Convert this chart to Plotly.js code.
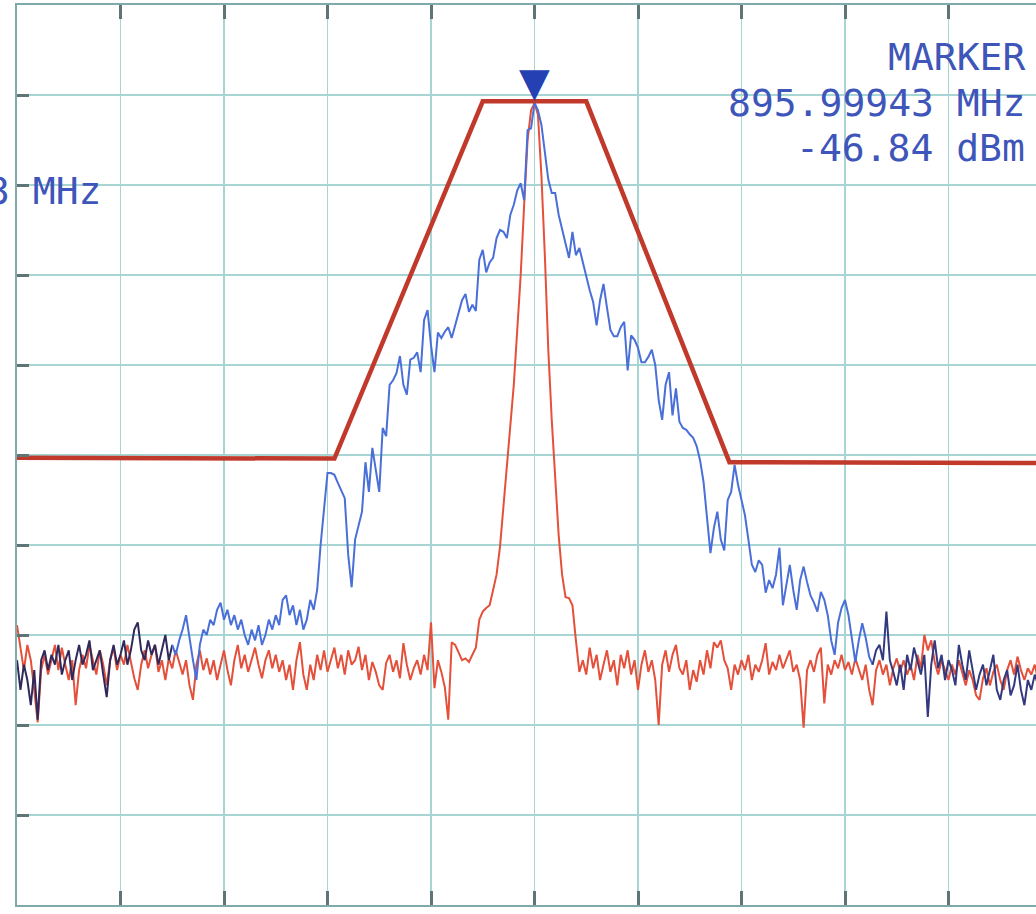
<!DOCTYPE html>
<html>
<head>
<meta charset="utf-8">
<script src="https://cdn.plot.ly/plotly-3.0.1.min.js"></script>
<style>
  html, body { margin: 0; padding: 0; background: #ffffff; }
  #chart { width: 1036px; height: 914px; }
</style>
</head>
<body>
<div id="chart"></div>
<script>
// ---- Sweep definition (spectrum analyzer sweep points) ----
const sweepStartMHz = 894.5;
const sweepStopMHz = 897.5;
const sweepPoints = 301;

// ---- Marker readout ----
const markerFreqMHz = 895.99943;
const markerLevelDbm = -46.84;
const markerLines = ["MARKER", "895.99943 MHz", "-46.84 dBm"];
const spanLabel = "3 MHz";

// ---- Trace A (blue): modulated spectrum, dBm per sweep point ----
const blueLevel = [
  -108.8, -112.1, -109.3, -111.0, -113.8, -109.9, -115.4, -108.8, -107.7, -109.9,
  -108.2, -109.3, -107.1, -110.4, -108.8, -107.7, -111.0, -108.8, -107.1, -109.3,
  -108.2, -106.6, -109.9, -108.8, -107.7, -110.4, -112.9, -108.8, -107.1, -109.3,
  -108.2, -106.6, -109.3, -107.7, -105.4, -104.6, -107.7, -108.8, -106.6, -108.2,
  -107.1, -109.3, -107.7, -106.0, -108.8, -107.1, -108.2, -106.6, -105.4, -103.8,
  -106.6, -108.8, -111.0, -107.1, -105.4, -106.0, -104.3, -104.9, -103.2, -102.4,
  -104.3, -103.2, -104.9, -103.8, -105.4, -104.3, -106.0, -107.1, -105.4, -106.6,
  -104.9, -107.1, -106.0, -104.3, -105.4, -103.8, -104.9, -102.1, -101.6, -103.8,
  -102.7, -104.9, -103.2, -105.4, -104.3, -102.1, -103.2, -101.0, -96.0, -92.1,
  -88.0, -88.0, -88.2, -89.1, -89.9, -90.8, -97.1, -100.7, -95.4, -93.8,
  -92.3, -86.8, -90.1, -85.2, -87.7, -90.1, -83.0, -83.9, -78.2, -77.7,
  -76.9, -75.0, -78.2, -79.3, -75.4, -75.2, -74.6, -76.8, -71.0, -69.9,
  -73.8, -76.8, -72.4, -73.0, -72.3, -71.8, -73.0, -71.6, -70.4, -68.8,
  -68.1, -70.1, -69.3, -70.0, -64.3, -63.2, -65.7, -64.6, -64.1, -61.9,
  -61.0, -61.2, -61.9, -59.3, -58.2, -56.6, -55.8, -57.7, -49.9, -49.7,
  -46.84, -47.7, -49.3, -52.1, -55.4, -56.9, -56.9, -59.3, -61.0, -62.7,
  -64.1, -61.2, -63.8, -63.0, -64.6, -66.3, -67.7, -69.0, -71.6, -68.8,
  -67.0, -69.6, -72.1, -72.8, -72.8, -71.8, -71.2, -76.6, -72.7, -73.2,
  -74.1, -75.7, -75.7, -75.1, -74.3, -76.0, -79.9, -82.1, -78.2, -76.8,
  -81.6, -78.6, -82.3, -83.0, -83.2, -83.7, -84.1, -85.0, -86.6, -89.0,
  -93.2, -96.9, -94.1, -92.3, -95.4, -96.6, -91.0, -90.1, -87.1, -89.3,
  -91.0, -92.7, -95.4, -98.2, -99.0, -97.7, -98.2, -101.3, -99.9, -100.8,
  -99.3, -96.3, -102.7, -100.4, -98.2, -101.0, -103.2, -99.9, -98.4, -100.1,
  -101.6, -102.4, -103.4, -101.2, -102.1, -103.8, -106.6, -108.2, -104.6, -103.0,
  -102.1, -103.8, -106.6, -109.0, -106.6, -104.7, -106.3, -108.4, -109.3, -107.7,
  -107.1, -108.8, -103.4, -108.8, -110.1, -111.6, -109.3, -112.1, -108.2, -109.9,
  -107.4, -108.8, -110.4, -108.2, -115.1, -109.3, -106.6, -109.7, -108.2, -111.0,
  -108.8, -109.9, -111.6, -107.1, -109.3, -111.0, -107.7, -109.9, -112.1, -110.4,
  -109.3, -111.6, -109.9, -108.2, -112.1, -113.2, -111.0, -109.9, -112.7, -111.6,
  -109.3, -112.1, -113.8, -111.0, -112.1, -110.4, -111.6, -109.9, -112.1, -111.0,
  -110.4
];

// ---- Trace B (red): unmodulated carrier, dBm per sweep point ----
const redLevel = [
  -104.9, -107.7, -109.9, -107.1, -108.8, -112.1, -115.7, -109.9, -108.2, -110.4,
  -108.8, -107.1, -109.9, -107.4, -109.3, -111.0, -108.8, -113.8, -109.9, -108.2,
  -109.7, -107.1, -108.8, -110.4, -107.7, -109.3, -111.6, -108.8, -107.4, -109.9,
  -108.2, -109.3, -107.1, -108.8, -110.8, -112.1, -109.3, -107.7, -109.7, -108.2,
  -107.1, -110.1, -108.8, -111.0, -108.6, -109.7, -107.7, -109.0, -110.4, -108.8,
  -111.6, -113.2, -109.3, -107.7, -109.9, -108.6, -110.4, -108.8, -111.0, -109.3,
  -107.7, -109.9, -111.6, -108.8, -107.1, -109.7, -108.2, -110.1, -108.8, -107.4,
  -109.3, -110.8, -108.8, -107.7, -109.7, -108.2, -110.1, -108.8, -111.0, -109.3,
  -112.1, -108.8, -106.8, -110.4, -112.1, -109.3, -111.0, -108.2, -109.9, -107.7,
  -110.1, -108.8, -107.4, -109.7, -108.2, -110.4, -107.7, -109.3, -108.8, -107.3,
  -109.9, -108.2, -111.0, -109.0, -110.1, -111.6, -112.1, -109.1, -108.2, -110.1,
  -108.8, -110.8, -106.9, -109.3, -111.0, -109.7, -108.8, -110.4, -108.2, -109.9,
  -104.6, -111.9, -108.8, -110.1, -111.8, -115.4, -106.8, -107.1, -107.9, -108.8,
  -108.6, -109.0, -108.2, -107.4, -104.3, -103.4, -103.0, -102.7, -101.0, -99.3,
  -96.2, -91.6, -86.6, -82.1, -78.2, -72.1, -66.0, -58.2, -51.0, -47.7,
  -46.9, -48.2, -54.9, -63.8, -74.3, -82.1, -88.8, -94.9, -99.3, -101.8,
  -101.9, -102.7, -106.6, -110.1, -108.8, -110.4, -107.4, -109.7, -108.2, -111.0,
  -109.3, -107.7, -110.1, -108.8, -111.6, -108.2, -109.7, -107.7, -110.4, -108.8,
  -112.1, -109.3, -107.7, -110.1, -108.8, -111.0, -116.0, -109.3, -107.7, -110.1,
  -108.2, -107.1, -109.7, -110.4, -108.8, -112.1, -109.9, -111.2, -108.8, -110.4,
  -107.7, -109.7, -106.8, -107.4, -106.6, -108.8, -109.7, -112.1, -109.3, -110.4,
  -108.8, -109.9, -108.2, -111.0, -109.3, -110.1, -108.8, -106.9, -110.4, -109.0,
  -109.9, -108.2, -109.7, -108.8, -107.7, -110.1, -109.3, -111.0, -116.3, -109.9,
  -108.8, -110.1, -108.2, -107.4, -113.6, -109.3, -110.4, -108.8, -109.7, -108.2,
  -109.9, -109.0, -110.4, -108.6, -109.7, -111.0, -109.3, -112.1, -113.8, -109.9,
  -108.8, -110.4, -109.3, -111.6, -109.7, -108.6, -110.1, -108.8, -110.4, -109.3,
  -111.0, -108.2, -109.7, -106.0, -107.7, -106.6, -109.0, -110.4, -108.8, -109.9,
  -111.0, -109.3, -110.4, -108.8, -110.1, -111.6, -109.9, -111.0, -112.7, -113.2,
  -110.8, -109.7, -111.6, -110.1, -109.3, -111.0, -112.1, -109.9, -108.8, -110.4,
  -108.4, -109.9, -111.0, -109.7, -110.4, -109.3, -111.0, -109.9, -110.4, -109.7,
  -110.1
];

// ---- Spectrum mask (limit line) ----
const maskFreqMHz = [894.5, 895.42, 895.85, 896.15, 896.565, 897.5];
const maskLevelDbm = [-86.3, -86.4, -46.7, -46.7, -86.8, -86.9];

// ---- Build sweep frequency axis ----
const sweepStep = (sweepStopMHz - sweepStartMHz) / (sweepPoints - 1);
const freqMHz = [];
for (let i = 0; i < sweepPoints; i++) freqMHz.push(+(sweepStartMHz + i * sweepStep).toFixed(4));

function seg(arr, a, b) { return arr.slice(a, b + 1); }

const traces = [
  { x: freqMHz, y: redLevel, type: 'scatter', mode: 'lines',
    line: { color: '#e4503a', width: 2 }, hoverinfo: 'skip' },
  { x: seg(freqMHz, 0, 45), y: seg(blueLevel, 0, 45), type: 'scatter', mode: 'lines',
    line: { color: '#302a5c', width: 2 }, hoverinfo: 'skip' },
  { x: seg(freqMHz, 45, 248), y: seg(blueLevel, 45, 248), type: 'scatter', mode: 'lines',
    line: { color: '#4a6fd8', width: 2 }, hoverinfo: 'skip' },
  { x: seg(freqMHz, 248, 300), y: seg(blueLevel, 248, 300), type: 'scatter', mode: 'lines',
    line: { color: '#33397e', width: 2 }, hoverinfo: 'skip' },
  { x: maskFreqMHz, y: maskLevelDbm, type: 'scatter', mode: 'lines',
    line: { color: '#c0392b', width: 4.5 }, hoverinfo: 'skip' }
];

// Plot area: x 17..1036 px, y 5..905 px
const plotL = 17, plotT = 5, plotW = 1019, plotH = 900;
function px2paperX(px) { return (px - plotL) / plotW; }
function px2paperY(py) { return (plotT + plotH - py) / plotH; }

const textColor = '#3e55b9';
const monoFont = 'DejaVu Sans Mono, Liberation Mono, monospace';

const annotations = [
  { xref: 'x', yref: 'y', x: markerFreqMHz, y: markerLevelDbm, text: '▼',
    showarrow: false, xanchor: 'center', yanchor: 'bottom', yshift: -4,
    font: { family: 'DejaVu Sans', size: 40, color: '#2440b2' } },
  { xref: 'paper', yref: 'paper', x: px2paperX(1027), y: px2paperY(57), text: markerLines[0],
    showarrow: false, xanchor: 'right', yanchor: 'middle',
    font: { family: monoFont, size: 38, color: textColor } },
  { xref: 'paper', yref: 'paper', x: px2paperX(1027), y: px2paperY(103), text: markerLines[1],
    showarrow: false, xanchor: 'right', yanchor: 'middle',
    font: { family: monoFont, size: 38, color: textColor } },
  { xref: 'paper', yref: 'paper', x: px2paperX(1027), y: px2paperY(148), text: markerLines[2],
    showarrow: false, xanchor: 'right', yanchor: 'middle',
    font: { family: monoFont, size: 38, color: textColor } },
  { xref: 'paper', yref: 'paper', x: px2paperX(103), y: px2paperY(191), text: spanLabel,
    showarrow: false, xanchor: 'right', yanchor: 'middle',
    font: { family: monoFont, size: 38, color: textColor } }
];

const layout = {
  width: 1036, height: 914, autosize: false,
  margin: { l: 17, r: 0, t: 5, b: 9, pad: 0 },
  paper_bgcolor: '#ffffff', plot_bgcolor: '#ffffff',
  showlegend: false,
  xaxis: {
    range: [sweepStartMHz, sweepStartMHz + (plotW / 103.5) * 0.3],
    tick0: sweepStartMHz, dtick: 0.3,
    showgrid: true, gridcolor: '#a7d5d4', gridwidth: 1.5,
    zeroline: false, showticklabels: false,
    ticks: 'inside', ticklen: 14, tickwidth: 3, tickcolor: '#5f7575',
    showline: true, linecolor: '#7fa9aa', linewidth: 2, mirror: 'ticks'
  },
  yaxis: {
    range: [-136, -36], tick0: -36, dtick: 10,
    showgrid: true, gridcolor: '#a7d5d4', gridwidth: 1.5,
    zeroline: false, showticklabels: false,
    ticks: 'inside', ticklen: 12, tickwidth: 3, tickcolor: '#5f7575',
    showline: true, linecolor: '#7fa9aa', linewidth: 2, mirror: false
  },
  annotations: annotations
};

Plotly.newPlot('chart', traces, layout, { staticPlot: true, displayModeBar: false });
</script>
</body>
</html>
